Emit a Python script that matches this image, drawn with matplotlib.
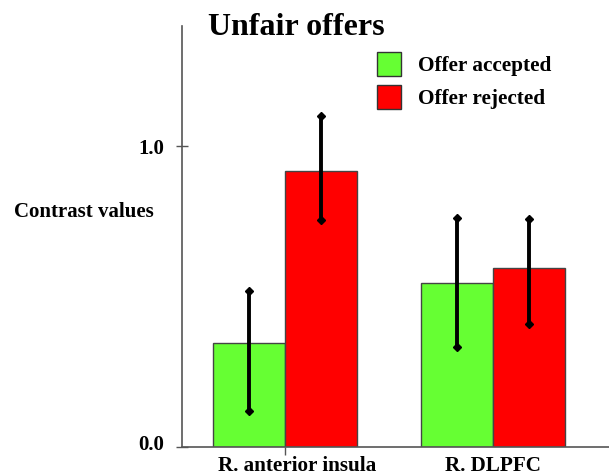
import matplotlib
matplotlib.use("Agg")
import matplotlib.pyplot as plt
import matplotlib.transforms as mtransforms
import numpy as np
from matplotlib.patches import Patch

regions = ["R. anterior insula", "R. DLPFC"]
series = ["Offer accepted", "Offer rejected"]
accepted = [0.346, 0.546]
accepted_low = [0.121, 0.333]
accepted_high = [0.520, 0.763]
rejected = [0.917, 0.596]
rejected_low = [0.755, 0.411]
rejected_high = [1.102, 0.759]
yticks = [0.0, 1.0]
ytick_labels = ["0.0", "1.0"]

green = "#66FF33"
red = "#FF0000"

plt.rcParams['font.family'] = ['Liberation Serif', 'DejaVu Serif']
plt.rcParams['font.weight'] = 'bold'

W, H = 609, 475
fig = plt.figure(figsize=(W/100, H/100), dpi=100)
ax = fig.add_axes([182/W, (H-447.3)/H, (W-182)/W, (447.3-26)/H])

x = np.arange(len(regions))
bw = 0.346
xa = x - bw/2
xr = x + bw/2
ax.bar(xa, accepted, bw, color=green, edgecolor="#444444", linewidth=1, zorder=2)
ax.bar(xr, rejected, bw, color=red, edgecolor="#444444", linewidth=1, zorder=2)

for xs, lo, hi in [(xa, accepted_low, accepted_high), (xr, rejected_low, rejected_high)]:
    ax.vlines(xs, lo, hi, color="black", linewidth=2.8, zorder=3)
    ax.plot(xs, lo, linestyle="none", marker="D", markersize=4, color="black", zorder=4)
    ax.plot(xs, hi, linestyle="none", marker="D", markersize=4, color="black", zorder=4)

ax.set_xlim((182-285)/208, (W-285)/208)
ax.set_ylim(0, 1.4)

ax.set_yticks(yticks)
ax.set_yticklabels(ytick_labels, fontsize=15, fontweight='bold')
ax.tick_params(axis='y', direction='inout', length=8, width=1, color="#555555", pad=8.6)
ylbl0 = ax.get_yticklabels()[0]
ylbl0.set_transform(ylbl0.get_transform() + mtransforms.ScaledTranslation(0, 5/100, fig.dpi_scale_trans))
ax.set_xticks(x)
ax.set_xticklabels(regions, fontsize=15.2, fontweight='bold')
ax.tick_params(axis='x', direction='out', length=6, width=1, color="#555555", pad=0.3)
ax.xaxis.get_major_ticks()[1].tick1line.set_visible(False)
lbl0 = ax.get_xticklabels()[0]
lbl0.set_transform(lbl0.get_transform() + mtransforms.ScaledTranslation(12/100, 0, fig.dpi_scale_trans))

for s in ['top', 'right']:
    ax.spines[s].set_visible(False)
for s in ['left', 'bottom']:
    ax.spines[s].set_color("#555555")
    ax.spines[s].set_linewidth(1.2)

ax.set_ylabel("Contrast values", rotation=0, fontsize=15, fontweight='bold', ha='center', va='center')
ax.yaxis.set_label_coords((84-182)/(W-182), (447.3-212)/(447.3-26))

fig.text(296.5/W, 1-35/H, "Unfair offers", ha='center', va='baseline', fontsize=23, fontweight='bold')

handles = [Patch(facecolor=green, edgecolor="#333333", linewidth=1),
           Patch(facecolor=red, edgecolor="#333333", linewidth=1)]
ax.legend(handles, series, loc='upper left', bbox_to_anchor=(377/W, 1-52/H),
          bbox_transform=fig.transFigure, frameon=False,
          handlelength=1.135, handleheight=1.36, handletextpad=0.8,
          labelspacing=0.4, borderpad=0, borderaxespad=0,
          prop={'weight': 'bold', 'size': 15.3})

fig.savefig("out.png", dpi=100)
